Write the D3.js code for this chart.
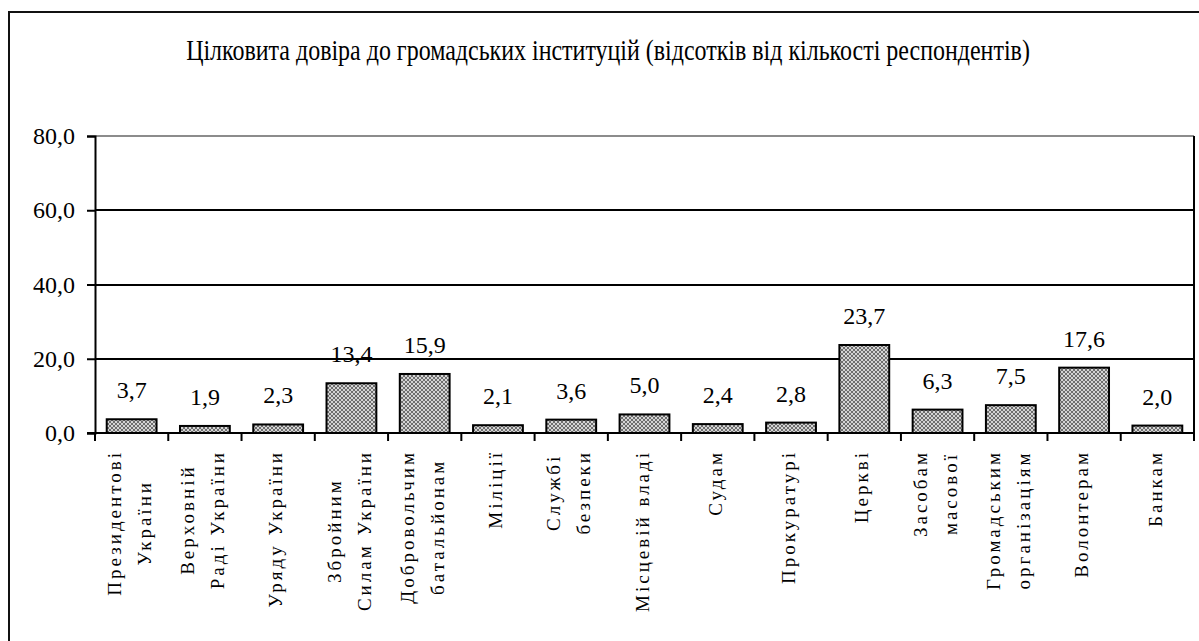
<!DOCTYPE html>
<html>
<head>
<meta charset="utf-8">
<script src="https://cdn.jsdelivr.net/npm/d3@7"></script>
<style>
  html, body { margin: 0; padding: 0; background: #fff; }
  svg { display: block; }
  text { font-family: "Liberation Serif", "Times New Roman", serif; fill: #000; }
</style>
</head>
<body>
<div id="chart"></div>
<script>
const title = "Цілковита довіра до громадських інституцій (відсотків від кількості респондентів)";
const categories = [
  "Президентові\nУкраїни",
  "Верховній\nРаді України",
  "Уряду України",
  "Збройним\nСилам України",
  "Добровольчим\nбатальйонам",
  "Міліції",
  "Службі\nбезпеки",
  "Місцевій владі",
  "Судам",
  "Прокуратурі",
  "Церкві",
  "Засобам\nмасової",
  "Громадським\nорганізаціям",
  "Волонтерам",
  "Банкам"
];
const values = [3.7, 1.9, 2.3, 13.4, 15.9, 2.1, 3.6, 5.0, 2.4, 2.8, 23.7, 6.3, 7.5, 17.6, 2.0];
const yTicks = [0, 20, 40, 60, 80];

const W = 1199, H = 641;
const plot = { left: 95, right: 1194, top: 136, bottom: 433 };
const fmt = v => d3.format(".1f")(v).replace(".", ",");

const svg = d3.select("#chart").append("svg").attr("width", W).attr("height", H);

// pattern for bars
const defs = svg.append("defs");
const pat = defs.append("pattern").attr("id", "hatch").attr("patternUnits", "userSpaceOnUse")
  .attr("width", 4).attr("height", 4);
pat.append("rect").attr("width", 4).attr("height", 4).attr("fill", "#d4d4d4");
pat.append("path").attr("d", "M0,0 L4,4 M4,0 L0,4").attr("stroke", "#6e6e6e").attr("stroke-width", 1);

// outer frame
svg.append("rect").attr("x", 9).attr("y", 12).attr("width", 1400).attr("height", 1000)
  .attr("fill", "none").attr("stroke", "#111").attr("stroke-width", 2);

// title (condensed to match the reference width)
const titleG = svg.append("g");
const titleT = titleG.append("text").attr("text-anchor", "middle").attr("font-size", 30).text(title);
const natural = titleT.node().getComputedTextLength();
titleG.attr("transform", `translate(608,60) scale(${844 / natural},1)`);

const x = d3.scaleBand().domain(d3.range(categories.length))
  .range([plot.left, plot.right]).paddingInner(0.32).paddingOuter(0.16);
const y = d3.scaleLinear().domain([0, 80]).range([plot.bottom, plot.top]);

// gridlines
svg.append("g").selectAll("line").data(yTicks.filter(t => t > 0)).join("line")
  .attr("x1", plot.left).attr("x2", plot.right)
  .attr("y1", d => Math.round(y(d))).attr("y2", d => Math.round(y(d)))
  .attr("stroke", d => d === 80 ? "#666" : "#000")
  .attr("stroke-width", d => d === 80 ? 1.5 : 2);

// right border
svg.append("line").attr("x1", plot.right).attr("x2", plot.right)
  .attr("y1", plot.top).attr("y2", plot.bottom).attr("stroke", "#000").attr("stroke-width", 2);

// y axis
const yAxis = d3.axisLeft(y).tickValues(yTicks).tickFormat(fmt).tickSize(8).tickPadding(12);
const gy = svg.append("g").attr("transform", `translate(${plot.left},0)`).call(yAxis);
gy.select(".domain").attr("stroke", "#000").attr("stroke-width", 2);
gy.selectAll(".tick line").attr("stroke", "#000").attr("stroke-width", 2);
gy.selectAll(".tick text").attr("font-size", 24).attr("font-family", "Liberation Serif").attr("fill", "#000");

// bars
svg.append("g").selectAll("rect").data(values).join("rect")
  .attr("x", (d, i) => x(i)).attr("width", x.bandwidth())
  .attr("y", d => y(d)).attr("height", d => y(0) - y(d))
  .attr("fill", "url(#hatch)").attr("stroke", "#000").attr("stroke-width", 2);

// value labels
svg.append("g").selectAll("text").data(values).join("text")
  .attr("x", (d, i) => x(i) + x.bandwidth() / 2)
  .attr("y", d => y(d) - 21)
  .attr("text-anchor", "middle").attr("font-size", 24)
  .text(d => fmt(d));

// x axis line and ticks
const step = x.step();
svg.append("line").attr("x1", plot.left - 8).attr("x2", plot.right)
  .attr("y1", plot.bottom).attr("y2", plot.bottom).attr("stroke", "#000").attr("stroke-width", 2);
svg.append("g").selectAll("line").data(d3.range(categories.length + 1)).join("line")
  .attr("x1", i => plot.left + i * step).attr("x2", i => plot.left + i * step)
  .attr("y1", plot.bottom).attr("y2", plot.bottom + 8)
  .attr("stroke", "#000").attr("stroke-width", 2);

// x labels (rotated, multi-line, block anchored near axis)
const labelTop = 450, lineGap = 30, fs = 19;
categories.forEach((cat, i) => {
  const lines = cat.split("\n");
  const cx = x(i) + x.bandwidth() / 2;
  const g = svg.append("g").attr("transform", `translate(${cx},${labelTop}) rotate(-90)`);
  const texts = lines.map((ln, j) => {
    const off = (j - (lines.length - 1) / 2) * lineGap;
    return g.append("text").attr("font-size", fs).attr("letter-spacing", "3px")
      .attr("text-anchor", "middle").attr("y", off + 0.22 * fs).text(ln);
  });
  const maxLen = d3.max(texts, t => t.node().getComputedTextLength());
  texts.forEach(t => t.attr("x", -maxLen / 2));
});
</script>
</body>
</html>
